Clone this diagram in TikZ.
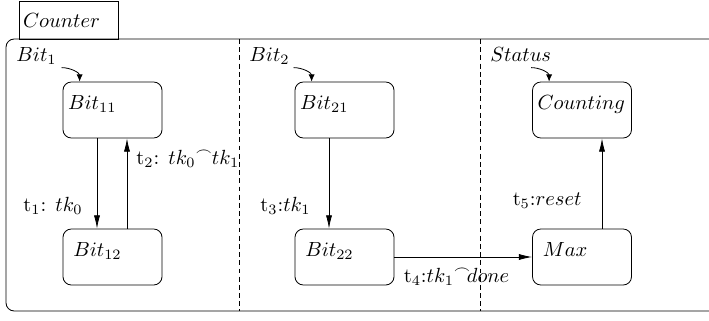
\documentclass[tikz,border=0pt]{standalone}
\usepackage{amsmath,amssymb}
\usepackage{tikz}
\usetikzlibrary{arrows.meta,positioning,calc}
\newcommand{\seqarc}{\mathord{\raisebox{4.5pt}{$\scriptstyle\frown$}}}

\begin{document}
\begin{tikzpicture}[x=0.488pt,y=0.488pt]
\tikzstyle{state}=[draw, rounded corners=4pt, align=left, inner ysep=0pt, inner xsep=2.5pt, text width=43.3pt, text height=13.2pt, text depth=14.1pt]
\tikzstyle{lowstate}=[state, inner xsep=5pt, text width=38.3pt]
\tikzstyle{tab}=[draw, align=left, inner xsep=2pt, text width=44.3pt, minimum height=18.5pt]
\tikzstyle{region}=[anchor=base west, inner sep=0pt]
\tikzstyle{trans}=[-{Latex[length=6.5pt,width=3pt]}]
\tikzstyle{init}=[-{Latex[length=3.5pt,width=3pt]}]
\tikzstyle{lab}=[inner sep=1pt]
\useasboundingbox (0,0) rectangle (709,320);

\node[tab] (counter) at (68.5,300) {$Counter$};
\draw[rounded corners=4pt] (709,281) -- (6,281) -- (6,9) -- (709,9);
\draw[dash pattern=on 2.4pt off 1.6pt] (239,281) -- (239,9);
\draw[dash pattern=on 2.4pt off 1.6pt] (480,281) -- (480,9);

\node[region] (r1) at (16,259) {$Bit_1$};
\node[region] (r2) at (249,259) {$Bit_2$};
\node[region] (r3) at (490,259) {$Status$};

\node[state] (bit11) at (112.5,210) {$Bit_{11}$};
\node[lowstate] (bit12) at (112.5,63) {$Bit_{12}$};
\node[state] (bit21) at (344.5,210) {$Bit_{21}$};
\node[lowstate] (bit22) at (344.5,63) {$Bit_{22}$};
\node[state] (counting) at (582,210) {$Counting$};
\node[lowstate] (max) at (582,63) {$Max$};

\draw[init] ($(bit11.north west)+(-1,14)$) to[out=0,in=90] ($(bit11.north west)+(17,0)$);
\draw[init] ($(bit21.north west)+(-1,14)$) to[out=0,in=90] ($(bit21.north west)+(17,0)$);
\draw[init] ($(counting.north west)+(-1,14)$) to[out=0,in=90] ($(counting.north west)+(17,0)$);

\draw[trans] ($(bit11.south)+(-15.5,0)$) -- node[lab, left=5.8pt, pos=0.75] (l1) {t$_1$: $tk_0$} ($(bit12.north)+(-15.5,0)$);
\draw[trans] ($(bit12.north)+(14.5,0)$) -- node[lab, right=3.4pt, pos=0.77] (l2) {t$_2$: $tk_0\seqarc tk_1$} ($(bit11.south)+(14.5,0)$);
\draw[trans] ($(bit21.south)+(-15.5,0)$) -- node[lab, left=7.8pt, pos=0.75] (l3) {t$_3$:$tk_1$} ($(bit22.north)+(-15.5,0)$);
\draw[trans] (bit22.east) -- node[anchor=north west, inner sep=0pt, pos=0, xshift=4.4pt, yshift=-5.4pt] (l4) {t$_4$:$tk_1\seqarc\!done$} (max.west);
\draw[trans] ($(max.north)+(20,0)$) -- node[lab, left=8.8pt, pos=0.31] (l5) {t$_5$:$reset$} ($(counting.south)+(20,0)$);
\end{tikzpicture}
\end{document}
